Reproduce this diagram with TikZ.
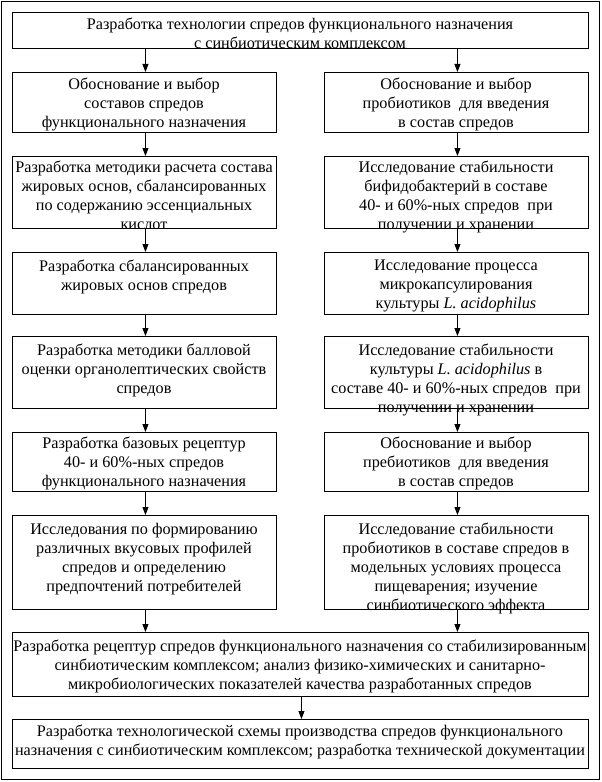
\documentclass[tikz,border=0pt]{standalone}
\usepackage{fontspec}
\setmainfont{Liberation Serif}
\usetikzlibrary{arrows.meta}
\begin{document}
\begin{tikzpicture}[x=1bp,y=-1bp,
  box/.style={draw,line width=0.9bp,inner sep=0pt,anchor=north west},
  txt/.style={inner sep=0pt,anchor=north,align=center,font=\fontsize{16.2bp}{19bp}\selectfont},
  arr/.style={draw,line width=0.9bp,-{Triangle[length=8bp,width=6bp]}},
  frame/.style={draw,line width=0.9bp}]
\useasboundingbox (0,0) rectangle (602,782);
\draw[frame] (1.5,1.5) rectangle (599.5,779.5);
% boxes
\node[box,minimum width=576bp,minimum height=36bp] (b0) at (12,12) {};
\node[box,minimum width=264bp,minimum height=60bp] (l1) at (12,72) {};
\node[box,minimum width=264bp,minimum height=60bp] (r1) at (324,72) {};
\node[box,minimum width=264bp,minimum height=72bp] (l2) at (12,156) {};
\node[box,minimum width=264bp,minimum height=72bp] (r2) at (324,156) {};
\node[box,minimum width=264bp,minimum height=62bp] (l3) at (12,252) {};
\node[box,minimum width=264bp,minimum height=62bp] (r3) at (324,252) {};
\node[box,minimum width=264bp,minimum height=72bp] (l4) at (12,336) {};
\node[box,minimum width=264bp,minimum height=72bp] (r4) at (324,336) {};
\node[box,minimum width=264bp,minimum height=59bp] (l5) at (12,432) {};
\node[box,minimum width=264bp,minimum height=59bp] (r5) at (324,432) {};
\node[box,minimum width=264bp,minimum height=94bp] (l6) at (12,515) {};
\node[box,minimum width=264bp,minimum height=94bp] (r6) at (324,515) {};
\node[box,minimum width=576bp,minimum height=64bp] (b7) at (12,632) {};
\node[box,minimum width=576bp,minimum height=49bp] (b8) at (12,719) {};
% texts
\node[txt] (t0) at (300,18) {Разработка технологии спредов функционального назначения\\с синбиотическим комплексом};
\node[txt] (tl1) at (144,78) {Обоснование и выбор\\составов спредов\\функционального назначения};
\node[txt] (tr1) at (456,78) {Обоснование и выбор\\пробиотиков\ \ для введения\\в состав спредов};
\node[txt] (tl2) at (144,161) {Разработка методики расчета состава\\жировых основ, сбалансированных\\по содержанию эссенциальных\\кислот};
\node[txt] (tr2) at (456,161) {Исследование стабильности\\бифидобактерий в составе\\40- и 60\%-ных спредов\ \ при\\получении и хранении};
\node[txt] (tl3) at (144,260) {Разработка сбалансированных\\жировых основ спредов};
\node[txt] (tr3) at (456,260) {Исследование процесса\\микрокапсулирования\\культуры \textit{L. acidophilus}};
\node[txt] (tl4) at (144,344) {Разработка методики балловой\\оценки органолептических свойств\\спредов};
\node[txt] (tr4) at (456,344) {Исследование стабильности\\культуры \textit{L. acidophilus} в\\составе 40- и 60\%-ных спредов\ \ при\\получении и хранении};
\node[txt] (tl5) at (144,437) {Разработка базовых рецептур\\40- и 60\%-ных спредов\\функционального назначения};
\node[txt] (tr5) at (456,437) {Обоснование и выбор\\пребиотиков\ \ для введения\\в состав спредов};
\node[txt] (tl6) at (144,523) {Исследования по формированию\\различных вкусовых профилей\\спредов и определению\\предпочтений потребителей};
\node[txt] (tr6) at (456,523) {Исследование стабильности\\пробиотиков в составе спредов в\\модельных условиях процесса\\пищеварения; изучение\\синбиотического эффекта};
\node[txt] (t7) at (300,640) {Разработка рецептур спредов функционального назначения со стабилизированным\\синбиотическим комплексом; анализ физико-химических и санитарно-\\микробиологических показателей качества разработанных спредов};
\node[txt] (t8) at (300,725) {Разработка технологической схемы производства спредов функционального\\назначения с синбиотическим комплексом; разработка технической документации};
% arrows
\draw[arr] ([xshift=1bp]l1.north |- b0.south) -- ([xshift=1bp]l1.north);
\draw[arr] ([xshift=1bp]r1.north |- b0.south) -- ([xshift=1bp]r1.north);
\draw[arr] ([xshift=1bp]l1.south) -- ([xshift=1bp]l2.north);
\draw[arr] ([xshift=1bp]r1.south) -- ([xshift=1bp]r2.north);
\draw[arr] ([xshift=1bp]l2.south) -- ([xshift=1bp]l3.north);
\draw[arr] ([xshift=1bp]r2.south) -- ([xshift=1bp]r3.north);
\draw[arr] ([xshift=1bp]l3.south) -- ([xshift=1bp]l4.north);
\draw[arr] ([xshift=1bp]r3.south) -- ([xshift=1bp]r4.north);
\draw[arr] ([xshift=1bp]l4.south) -- ([xshift=1bp]l5.north);
\draw[arr] ([xshift=1bp]r4.south) -- ([xshift=1bp]r5.north);
\draw[arr] ([xshift=1bp]l5.south) -- ([xshift=1bp]l6.north);
\draw[arr] ([xshift=1bp]r5.south) -- ([xshift=1bp]r6.north);
\draw[arr] ([xshift=1bp]l6.south) -- ([xshift=1bp]l6.south |- b7.north);
\draw[arr] ([xshift=1bp]r6.south) -- ([xshift=1bp]r6.south |- b7.north);
\draw[arr] ([xshift=1bp]b7.south) -- ([xshift=1bp]b8.north);
\end{tikzpicture}
\end{document}
